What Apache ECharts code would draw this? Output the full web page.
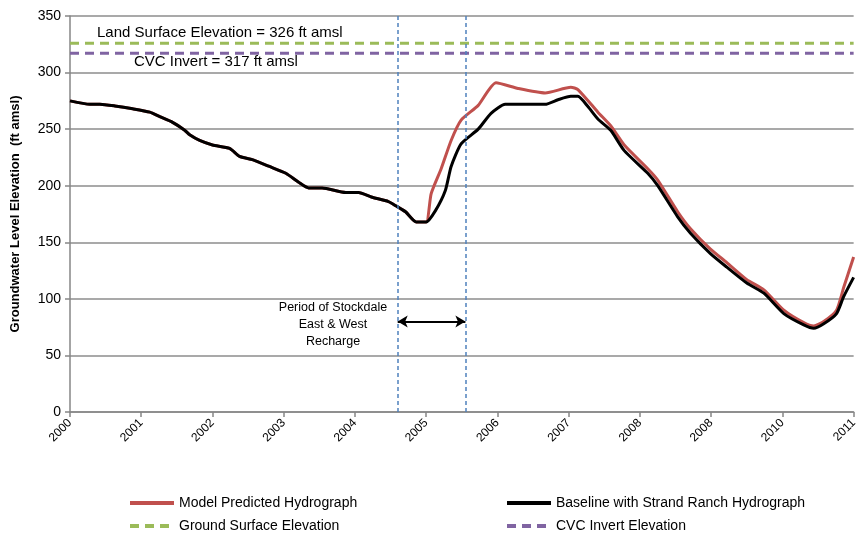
<!DOCTYPE html>
<html>
<head>
<meta charset="utf-8">
<script src="https://cdn.jsdelivr.net/npm/echarts@6/dist/echarts.min.js"></script>
<style>html,body{margin:0;padding:0;background:#fff}#c{width:860px;height:533px}</style>
</head>
<body>
<div id="c"></div>
<script>
// ---- data ----
var tickLabels = ['2000','2001','2002','2003','2004','2005','2006','2007','2008','2008','2010','2011'];
var baselineYears = [2000.00,2000.28,2000.42,2000.63,2000.88,2001.12,2001.26,2001.44,2001.61,2001.68,2001.82,2002.00,2002.24,2002.38,2002.56,2002.80,2003.03,2003.21,2003.35,2003.54,2003.87,2004.05,2004.23,2004.47,2004.58,2004.71,2004.86,2005.00,2005.13,2005.27,2005.35,2005.49,2005.73,2005.91,2006.11,2006.67,2006.85,2007.03,2007.13,2007.27,2007.41,2007.59,2007.78,2008.11,2008.25,2008.53,2008.71,2008.99,2009.22,2009.50,2009.74,2010.02,2010.30,2010.44,2010.58,2010.76,2010.86,2011.00];
var baselineVals  = [275,272,272,270.5,268,265,261,256,249,245,240,236,233,226,223,217,211,203,198,198,194,194,190,186,182,177,168,168,178,196,217,237,250,264,272,272,276,279,279,270,259,249,231,211,200,172.5,158,140,128,114,105,87,77,74,78,87,102,119];
var modelYears = [2000.00,2000.28,2000.42,2000.63,2000.88,2001.12,2001.26,2001.44,2001.61,2001.68,2001.82,2002.00,2002.24,2002.38,2002.56,2002.80,2003.03,2003.21,2003.35,2003.54,2003.87,2004.05,2004.23,2004.47,2004.58,2004.71,2004.86,2005.00,2005.07,2005.21,2005.35,2005.49,2005.73,2005.98,2006.29,2006.67,2007.03,2007.13,2007.41,2007.59,2007.78,2008.11,2008.25,2008.53,2008.71,2008.99,2009.22,2009.50,2009.74,2010.02,2010.30,2010.44,2010.58,2010.76,2010.86,2011.00];
var modelVals  = [275,272,272,270.5,268,265,261,256,249,245,240,236,233,226,223,217,211,203,198,198,194,194,190,186,182,177,168,168,193,215,240,258,271,291,286,282,287,285,265,253,236,215,205,177,162,144,132,117,108,90,79,76,80,90,110,137];
var groundSurface = 326;
var cvcInvert = 317;
var rechargeStart = 2004.6;
var rechargeEnd = 2005.55;
var arrowLevel = 80;

function pairs(xs, ys){ return xs.map(function(x,i){ return [x, ys[i]]; }); }

var FONT = 'Liberation Sans, Arial, sans-serif';
var chart = echarts.init(document.getElementById('c'), null, {renderer:'canvas'});
var legendText = {fontSize:14, color:'#000', fontFamily:FONT};
function lg(name, left, top){
  return {data:[name], left:left, top:top, itemWidth:44, itemHeight:12, itemGap:0,
    itemStyle:{color:'transparent', borderWidth:0, opacity:0}, lineStyle:{width:4},
    textStyle:legendText, padding:0, selectedMode:false};
}
chart.setOption({
  animation:false,
  grid:{left:70, right:2, top:16, bottom:121},
  xAxis:{
    type:'value', min:2000, max:2011, interval:1,
    axisLine:{lineStyle:{color:'#868686', width:1.5}},
    axisTick:{show:true, length:5, lineStyle:{color:'#868686', width:1.5}},
    splitLine:{show:false},
    axisLabel:{rotate:45, fontSize:12, color:'#000', fontFamily:FONT, margin:9,
      formatter:function(v){ return tickLabels[Math.round(v-2000)]; }}
  },
  yAxis:{
    type:'value', min:0, max:350, interval:50,
    name:'Groundwater Level Elevation  (ft amsl)', nameLocation:'middle', nameRotate:90, nameGap:48,
    nameTextStyle:{fontSize:13, fontWeight:'bold', color:'#000', fontFamily:FONT},
    axisLine:{show:true, lineStyle:{color:'#868686', width:1.5}},
    axisTick:{show:true, length:5, lineStyle:{color:'#868686', width:1.5}},
    splitLine:{lineStyle:{color:'#8c8c8c', width:1.5}},
    axisLabel:{fontSize:14, color:'#000', fontFamily:FONT, margin:9}
  },
  legend:[
    lg('Model Predicted Hydrograph',128,496),
    lg('Baseline with Strand Ranch Hydrograph',505,496),
    lg('Ground Surface Elevation',128,519),
    lg('CVC Invert Elevation',505,519)
  ],
  series:[
    {name:'Model Predicted Hydrograph', type:'line', data:pairs(modelYears, modelVals), symbol:'none', smooth:0.2,
     lineStyle:{color:'#C0504D', width:3}, itemStyle:{color:'#C0504D'}, z:2,
     markLine:{silent:true, symbol:['arrow','arrow'], symbolSize:[9,10], label:{show:false},
       lineStyle:{color:'#000', width:2, type:'solid'},
       data:[[{coord:[rechargeStart, arrowLevel]},{coord:[rechargeEnd, arrowLevel]}]]}},
    {name:'Baseline with Strand Ranch Hydrograph', type:'line', data:pairs(baselineYears, baselineVals), symbol:'none', smooth:0.2,
     lineStyle:{color:'#000', width:3}, itemStyle:{color:'#000'}, z:3},
    {name:'Ground Surface Elevation', type:'line', data:[[2000,groundSurface],[2011,groundSurface]], symbol:'none',
     lineStyle:{color:'#9BBB59', width:3, type:[9,6]}, itemStyle:{color:'#9BBB59'}, z:2,
     markLine:{silent:true, symbol:'none', label:{show:false},
       lineStyle:{color:'#4F81BD', width:1.5, type:[4,3]},
       data:[{xAxis:rechargeStart},{xAxis:rechargeEnd}]}},
    {name:'CVC Invert Elevation', type:'line', data:[[2000,cvcInvert],[2011,cvcInvert]], symbol:'none',
     lineStyle:{color:'#8064A2', width:3, type:[9,6]}, itemStyle:{color:'#8064A2'}, z:2}
  ],
  graphic:[
    {type:'text', left:97, top:25, style:{text:'Land Surface Elevation = 326 ft amsl', fontSize:15, fill:'#000', fontFamily:FONT}},
    {type:'text', left:134, top:54, style:{text:'CVC Invert = 317 ft amsl', fontSize:15, fill:'#000', fontFamily:FONT}},
    {type:'text', x:333, y:299, style:{text:'Period of Stockdale\nEast & West\nRecharge', align:'center', lineHeight:17, fontSize:12.5, fill:'#000', fontFamily:FONT}}
  ]
});
</script>
</body>
</html>
